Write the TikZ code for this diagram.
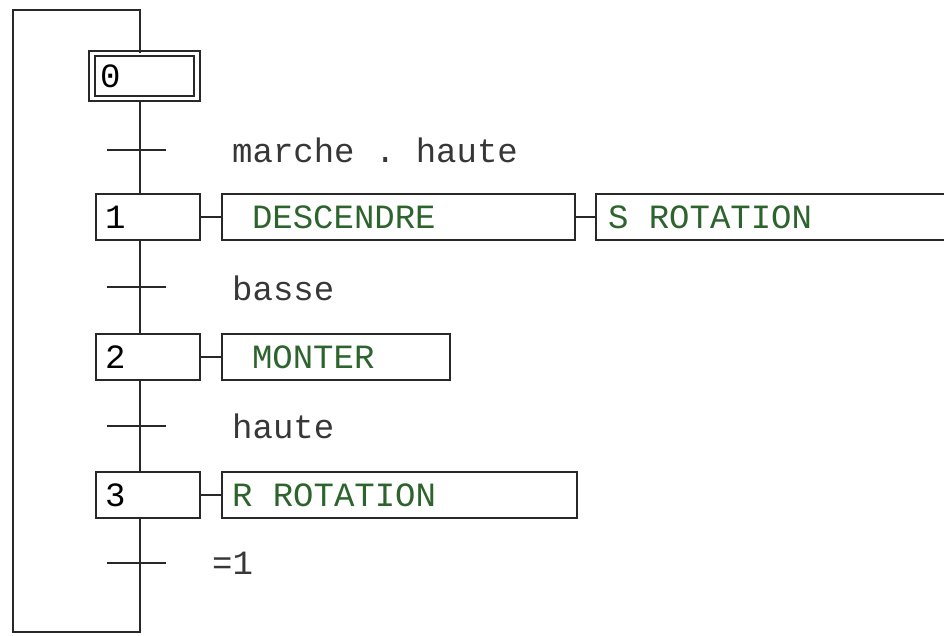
\documentclass[tikz,border=0pt]{standalone}
\usepackage{fontspec}
\setmonofont{Liberation Mono}
\definecolor{linec}{RGB}{40,40,40}
\definecolor{actc}{RGB}{45,100,45}
\definecolor{labc}{RGB}{55,55,55}
\begin{document}
\begin{tikzpicture}[x=1pt,y=-1pt,
  mono/.style={font=\ttfamily\fontsize{34}{34}\selectfont},
  wire/.style={draw=linec,line width=2.2pt},
  stepbox/.style={mono,draw=linec,line width=2.4pt,minimum width=104pt,minimum height=46pt,
    inner xsep=9pt,inner ysep=0pt,text=black},
  initbox/.style={stepbox,line width=2pt,double=white,double distance=3.5pt,
    minimum width=105pt,minimum height=45pt,inner xsep=8pt},
  actbox/.style={mono,draw=linec,line width=2.4pt,minimum height=46pt,inner ysep=0pt,
    outer sep=0pt,anchor=north west,text=actc},
  translabel/.style={mono,anchor=west,text=labc,inner sep=0pt}]
\clip (0,0) rectangle (944,635);
\fill[white] (0,0) rectangle (944,635);
% steps
\node[initbox] (s0) at (144.5,76) {\makebox[89pt][l]{0}};
\node[stepbox] (s1) at (148,217) {\makebox[86pt][l]{1}};
\node[stepbox] (s2) at (148,357) {\makebox[86pt][l]{2}};
\node[stepbox] (s3) at (148,495) {\makebox[86pt][l]{3}};
% actions
\node[actbox,inner xsep=30pt] (a1) at (222,194) {\makebox[293pt][l]{DESCENDRE}};
\node[actbox,inner xsep=12pt] (a1b) at (596,194) {\makebox[340pt][l]{S ROTATION}};
\node[actbox,inner xsep=30pt] (a2) at (222,334) {\makebox[168pt][l]{MONTER}};
\node[actbox,inner xsep=10pt] (a3) at (222,472) {\makebox[335pt][l]{R ROTATION}};
% main line coordinates
\coordinate (mx) at (140,0);
\coordinate (t1) at (140,150);
\coordinate (t2) at (140,287);
\coordinate (t3) at (140,426);
\coordinate (t4) at (140,563);
\coordinate (bl) at (13,632);
\coordinate (tl) at (13,10);
% vertical links
\draw[wire] (s0.south -| mx) -- (s1.north -| mx);
\draw[wire] (s1.south -| mx) -- (s2.north -| mx);
\draw[wire] (s2.south -| mx) -- (s3.north -| mx);
\draw[wire] (s3.south -| mx) -- (bl -| mx) -- (bl) -- (tl) -- (tl -| mx) -- (s0.north -| mx);
% transitions
\foreach \t in {t1,t2,t3,t4}{
  \draw[wire] ([xshift=-33pt]\t) -- ([xshift=26pt]\t);
}
\node[translabel] (l1) at (232,150) {marche . haute};
\node[translabel] (l2) at (232,288) {basse};
\node[translabel] (l3) at (232,426) {haute};
\node[translabel] (l4) at (212,563) {=1};
% action links
\draw[wire] (s1.east) -- (s1.east -| a1.west);
\draw[wire] (a1.east) -- (a1.east -| a1b.west);
\draw[wire] (s2.east) -- (s2.east -| a2.west);
\draw[wire] (s3.east) -- (s3.east -| a3.west);
\end{tikzpicture}
\end{document}
